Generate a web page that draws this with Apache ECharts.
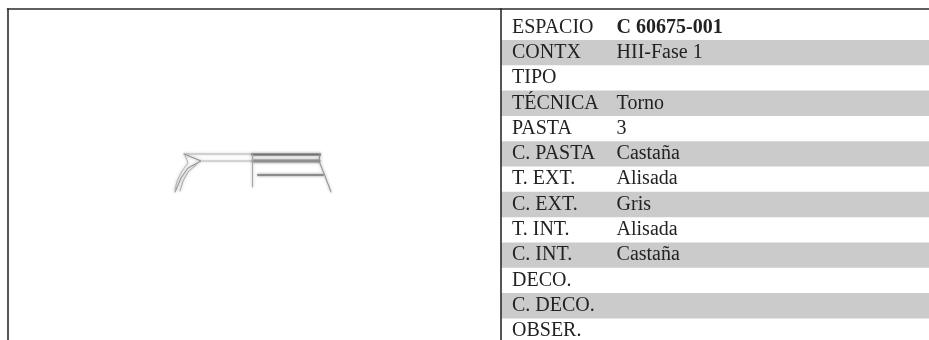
<!DOCTYPE html>
<html>
<head>
<meta charset="utf-8">
<style>
  html, body { margin: 0; padding: 0; background: #fff; overflow: hidden; }
  #chart { width: 929px; height: 340px; }
</style>
<script src="https://cdn.jsdelivr.net/npm/echarts@6/dist/echarts.min.js"></script>
</head>
<body>
<div id="chart"></div>
<script>
const rowNames = ['ESPACIO', 'CONTX', 'TIPO', 'TÉCNICA', 'PASTA', 'C. PASTA', 'T. EXT.', 'C. EXT.', 'T. INT.', 'C. INT.', 'DECO.', 'C. DECO.', 'OBSER.']
const rowValues = ['C 60675-001', 'HII-Fase 1', '', 'Torno', '3', 'Castaña', 'Alisada', 'Gris', 'Alisada', 'Castaña', '', '', '']
const rowShade = [0, 1, 0, 1, 0, 1, 0, 1, 0, 1, 0, 1, 0]

// sherd profile
const rimTop = [[184, 154], [252, 154]]
const rimTopDark = [[252, 154.5], [320, 154.5]]
const rimUnder = [[202, 161], [252, 161]]
const rimBand = [[253, 161], [319, 161]]
const lowerBand = [[258, 175], [323, 175]]
const centerLine = [[252.5, 154], [252.5, 187]]
const lipOutline = [[184, 154], [201, 161], [188, 168], [181, 178], [175, 192]]
const lipInner = [[185, 155], [188, 163], [182, 171], [177, 181], [175, 190]]
const lipInner2 = [[197, 164], [188, 172], [183, 181], [180, 191]]
const rightWall = [[320, 154], [319, 161], [325, 176], [331, 192]]

const chart = echarts.init(document.getElementById('chart'))

const hiddenParts = { axisTick: { show: false }, axisLabel: { show: false }, splitLine: { show: false } }
const frameLine = { show: true, onZero: false, lineStyle: { color: '#2b2b2b', width: 1.6 } }

function stroke(data, color, width) {
  return {
    type: 'line', xAxisIndex: 0, yAxisIndex: 0, data, showSymbol: false, silent: true,
    lineStyle: { color, width, cap: 'round', shadowColor: color, shadowBlur: 3 },
  }
}

chart.setOption({
  animation: false,
  backgroundColor: '#fff',
  grid: [
    { left: 7.5, top: 9, width: 493, height: 331, outerBoundsMode: 'none' },
    { left: 500.5, top: 9, width: 429, height: 331, outerBoundsMode: 'none' },
    { left: 501, top: 14.7, width: 428, height: 329, outerBoundsMode: 'none' },
  ],
  xAxis: [
    { gridIndex: 0, type: 'value', position: 'top', min: 7.5, max: 500.5, axisLine: frameLine, ...hiddenParts },
    { gridIndex: 1, type: 'value', position: 'top', min: 0, max: 1, axisLine: frameLine, ...hiddenParts },
    { gridIndex: 2, type: 'value', min: 0, max: 1, axisLine: { show: false }, ...hiddenParts },
  ],
  yAxis: [
    { gridIndex: 0, type: 'value', inverse: true, min: 9, max: 340, axisLine: frameLine, ...hiddenParts },
    { gridIndex: 1, type: 'value', min: 0, max: 1, axisLine: frameLine, ...hiddenParts },
    {
      gridIndex: 2, type: 'category', inverse: true, data: rowNames, z: 5,
      axisLine: { show: false }, axisTick: { show: false }, splitLine: { show: false },
      axisLabel: { inside: true, interval: 0, margin: 11, color: '#222', fontFamily: 'Liberation Serif', fontSize: 20 },
    },
  ],
  series: [
    stroke(rimTop, '#b5b5b5', 1),
    stroke(rimTopDark, '#6e6e6e', 2),
    stroke(rimUnder, '#b8b8b8', 1),
    stroke(rimBand, '#8f8f8f', 3),
    stroke(lowerBand, '#8a8a8a', 2),
    stroke(centerLine, '#a5a5a5', 1),
    stroke(lipOutline, '#8d8d8d', 1),
    stroke(lipInner, '#b5b5b5', 1),
    stroke(lipInner2, '#a8a8a8', 1),
    stroke(rightWall, '#8d8d8d', 1),
    {
      type: 'bar', xAxisIndex: 2, yAxisIndex: 2, data: rowShade, barWidth: '100%', silent: true, z: -1,
      itemStyle: { color: '#cbcbcb' },
    },
    {
      type: 'scatter', xAxisIndex: 2, yAxisIndex: 2, symbolSize: 0, silent: true,
      itemStyle: { opacity: 1 },
      data: rowValues.map((v, i) => ({
        value: [0.27, i],
        label: { formatter: v, fontWeight: i === 0 ? 'bold' : 'normal' },
      })),
      label: {
        show: true, position: 'right', distance: 0,
        color: '#222', fontFamily: 'Liberation Serif', fontSize: 20,
      },
    },
  ],
})
</script>
</body>
</html>
